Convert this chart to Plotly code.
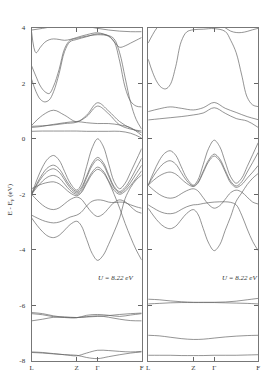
import plotly.graph_objects as go

# k-path positions (fraction of path length)
K = [0, .1, .2, .3, .41, .5, .6, .7, .8, .9, 1.0]
KV = [0, .05, .1, .15, .2, .25, .3, .35, .41, .45, .5, .55, .6, .65, .7, .75, .8, .85, .9, .95, 1.0]
KF = [0, .04, .08, .12, .16, .2, .25, .3, .35, .41, .5, .6, .7, .75, .8, .85, .9, .95, 1.0]
TICK_POS = [0, 0.41, 0.6, 1.0]
TICK_TEXT = ["L", "Z", "Γ", "F"]
Y_TICKS = [4, 2, 0, -2, -4, -6, -8]
LABEL = "U = 8.22 eV"

# ---- left panel valence bands (eV), on KV ----
LV1 = [-2.0, -1.46, -1.01, -0.71, -0.6, -0.77, -1.18, -1.59, -1.85, -1.66, -1.0, -0.33, 0.0, -0.26, -0.9, -1.54, -1.8, -1.6, -1.2, -0.78, -0.35]
LV2 = [-2.0, -1.6, -1.26, -1.03, -0.95, -1.08, -1.39, -1.7, -1.9, -1.77, -1.34, -0.89, -0.67, -0.85, -1.29, -1.72, -1.9, -1.75, -1.45, -1.08, -0.7]
LV3 = [-2.0, -1.65, -1.35, -1.15, -1.08, -1.2, -1.48, -1.77, -1.95, -1.83, -1.4, -0.97, -0.75, -0.93, -1.35, -1.77, -1.95, -1.82, -1.57, -1.26, -0.95]
LV4 = [-2.0, -1.74, -1.52, -1.37, -1.32, -1.41, -1.63, -1.86, -2.0, -1.9, -1.55, -1.2, -1.02, -1.16, -1.51, -1.86, -2.0, -1.89, -1.68, -1.42, -1.15]
LV5 = [-1.8, -1.7, -1.62, -1.57, -1.55, -1.62, -1.78, -1.95, -2.05, -1.95, -1.61, -1.27, -1.1, -1.22, -1.55, -2.0, -2.5, -3.05, -3.55, -4.0, -4.37]
LV6 = [-2.0, -2.21, -2.39, -2.51, -2.55, -2.49, -2.34, -2.19, -2.1, -2.17, -2.42, -2.67, -2.8, -2.71, -2.5, -2.29, -2.2, -2.27, -2.44, -2.61, -2.68]
LV7 = [-2.85, -3.12, -3.35, -3.51, -3.56, -3.48, -3.29, -3.09, -2.97, -3.12, -3.62, -4.13, -4.38, -4.2, -3.8, -3.35, -2.85, -2.15, -1.75, -1.48, -1.3]
LV8 = [-2.75, -2.85, -2.94, -3.0, -3.03, -3.0, -2.92, -2.82, -2.75, -2.65, -2.42, -2.25, -2.2, -2.22, -2.28, -2.3, -2.28, -2.3, -2.38, -2.45, -2.5]
# left panel, on K
LD1 = [-6.26, -6.3, -6.38, -6.43, -6.44, -6.41, -6.38, -6.43, -6.5, -6.55, -6.56]
LD2 = [-6.56, -6.5, -6.43, -6.42, -6.44, -6.42, -6.4, -6.37, -6.33, -6.3, -6.28]
LD3 = [-6.3, -6.34, -6.41, -6.44, -6.45, -6.36, -6.33, -6.36, -6.4, -6.35, -6.3]
LE1 = [-7.68, -7.7, -7.74, -7.78, -7.82, -7.72, -7.62, -7.63, -7.66, -7.68, -7.66]
LE2 = [-7.7, -7.72, -7.75, -7.78, -7.8, -7.88, -7.92, -7.85, -7.78, -7.72, -7.68]
LC1 = [0.27, 0.28, 0.28, 0.28, 0.28, 0.27, 0.27, 0.27, 0.27, 0.2, 0.03]
LC2 = [0.41, 0.45, 0.52, 0.58, 0.62, 0.58, 0.55, 0.55, 0.5, 0.4, 0.12]
LC3 = [0.48, 0.85, 1.03, 0.85, 0.62, 0.85, 1.3, 1.0, 0.62, 0.38, 0.22]
LC4 = [0.45, 0.47, 0.5, 0.55, 0.6, 0.8, 1.18, 0.9, 0.5, 0.35, 0.28]
LC5 = [3.92, 3.98, 4.05, 4.1, 4.1, 4.05, 3.98, 3.92, 3.88, 3.86, 3.86]
# left panel, on KF
LU1 = [2.63, 2.25, 1.9, 1.7, 1.63, 1.9, 2.5, 3.25, 3.55, 3.62, 3.7, 3.75, 3.7, 3.5, 2.8, 1.85, 1.35, 1.18, 1.15]
LU2 = [2.15, 1.7, 1.42, 1.33, 1.4, 1.7, 2.35, 3.15, 3.5, 3.58, 3.68, 3.78, 3.72, 3.6, 3.1, 2.2, 1.3, 0.7, 0.35]
LU3 = [3.85, 3.1, 3.3, 3.48, 3.57, 3.6, 3.58, 3.55, 3.58, 3.65, 3.75, 3.82, 3.7, 3.5, 3.3, 3.35, 3.45, 3.55, 3.65]

# ---- right panel valence bands (eV), on KV ----
RV1 = [-1.67, -1.2, -0.79, -0.52, -0.43, -0.59, -1.0, -1.41, -1.67, -1.5, -0.93, -0.34, -0.05, -0.28, -0.83, -1.37, -1.6, -1.42, -1.0, -0.57, -0.14]
RV2 = [-1.67, -1.33, -1.05, -0.86, -0.79, -0.91, -1.21, -1.51, -1.7, -1.58, -1.17, -0.76, -0.55, -0.72, -1.13, -1.53, -1.7, -1.55, -1.2, -0.85, -0.49]
RV3 = [-1.67, -1.49, -1.34, -1.24, -1.2, -1.27, -1.44, -1.61, -1.72, -1.61, -1.22, -0.82, -0.62, -0.79, -1.19, -1.59, -1.75, -1.65, -1.42, -1.2, -0.96]
RV4 = [-1.67, -1.85, -2.0, -2.1, -2.14, -2.1, -1.98, -1.87, -1.8, -1.87, -2.12, -2.37, -2.5, -2.41, -2.18, -1.94, -1.85, -1.92, -2.1, -2.28, -2.35]
RV5 = [-2.5, -2.78, -3.02, -3.18, -3.24, -3.15, -2.92, -2.69, -2.55, -2.7, -3.23, -3.76, -4.03, -3.82, -3.3, -2.8, -2.25, -1.95, -1.65, -1.42, -1.25]
RV6 = [-2.38, -2.5, -2.61, -2.68, -2.7, -2.66, -2.55, -2.45, -2.38, -2.37, -2.33, -2.3, -2.28, -2.27, -2.27, -2.29, -2.38, -2.75, -3.25, -3.7, -4.03]
# right panel, on K
RD1 = [-5.78, -5.8, -5.84, -5.87, -5.89, -5.89, -5.89, -5.88, -5.85, -5.8, -5.75]
RD2 = [-5.95, -5.93, -5.91, -5.9, -5.9, -5.9, -5.9, -5.91, -5.92, -5.93, -5.95]
RD3 = [-7.08, -7.1, -7.15, -7.2, -7.23, -7.22, -7.18, -7.14, -7.11, -7.09, -7.08]
RD4 = [-7.8, -7.8, -7.8, -7.81, -7.81, -7.81, -7.8, -7.8, -7.8, -7.79, -7.78]
RC1 = [0.98, 1.08, 1.15, 1.1, 1.04, 1.12, 1.31, 1.1, 0.95, 0.8, 0.69]
RC2 = [0.68, 0.72, 0.76, 0.8, 0.86, 0.93, 1.12, 0.92, 0.73, 0.64, 0.41]
# right panel, on KF
RU1 = [2.87, 2.4, 2.05, 1.85, 1.8, 1.95, 2.6, 3.5, 3.85, 3.93, 3.95, 3.97, 3.87, 3.55, 3.1, 2.3, 1.5, 1.22, 1.16]
RU2 = [3.45, 3.75, 4.0, 4.15, 4.2, 4.2, 4.2, 4.2, 4.2, 4.2, 4.2, 4.15, 4.0, 3.88, 3.83, 3.83, 3.87, 3.93, 3.98]

PANELS = [
    ("x", "y", [(KV, [LV1, LV2, LV3, LV4, LV5, LV6, LV7, LV8]),
                (K, [LD1, LD2, LD3, LE1, LE2, LC1, LC2, LC3, LC4, LC5]),
                (KF, [LU1, LU2, LU3])]),
    ("x2", "y2", [(KV, [RV1, RV2, RV3, RV4, RV5, RV6]),
                  (K, [RD1, RD2, RD3, RD4, RC1, RC2]),
                  (KF, [RU1, RU2])]),
]

LINE = dict(color="#666666", width=0.7, shape="spline", smoothing=1.0)

fig = go.Figure()
for xa, ya, groups in PANELS:
    for kk, bands in groups:
        for b in bands:
            fig.add_trace(go.Scatter(x=kk, y=b, mode="lines", line=LINE,
                                     xaxis=xa, yaxis=ya, showlegend=False,
                                     hoverinfo="skip"))

FONT = dict(family="Liberation Serif", size=7, color="#333333")
ax_common = dict(range=[0, 1], tickvals=TICK_POS, ticktext=TICK_TEXT,
                 ticks="inside", ticklen=4, tickcolor="#666666",
                 showline=True, linecolor="#777777", linewidth=1,
                 mirror="ticks", showgrid=False, zeroline=False,
                 tickfont=FONT)
ay_common = dict(range=[-8, 4], tickvals=Y_TICKS,
                 ticktext=[str(v) for v in Y_TICKS],
                 ticks="inside", ticklen=4, tickcolor="#666666",
                 showline=True, linecolor="#777777", linewidth=1,
                 mirror="ticks", showgrid=False, zeroline=False,
                 tickfont=FONT)

fig.update_layout(
    width=278, height=380, autosize=False,
    margin=dict(l=0, r=0, t=0, b=0),
    paper_bgcolor="white", plot_bgcolor="white",
    hovermode=False,
    xaxis=dict(domain=[0.108, 0.5097], anchor="y", **ax_common),
    yaxis=dict(domain=[0.0408, 0.936], anchor="x", ticklabelstandoff=4,
               **ay_common),
    xaxis2=dict(domain=[0.5335, 0.935], anchor="y2", **ax_common),
    yaxis2=dict(domain=[0.0408, 0.936], anchor="x2", showticklabels=False,
                **ay_common),
    annotations=[
        dict(text="E - E<sub>F</sub> (eV)", xref="paper", yref="paper",
             x=0.029, y=0.474, xanchor="center", yanchor="middle",
             showarrow=False, textangle=-90,
             font=dict(family="Liberation Serif", size=7, color="#333333")),
        dict(text="<i>" + LABEL + "</i>", xref="paper", yref="paper",
             x=0.414, y=0.263, xanchor="center", yanchor="middle",
             showarrow=False,
             font=dict(family="Liberation Serif", size=7, color="#333333")),
        dict(text="<i>" + LABEL + "</i>", xref="paper", yref="paper",
             x=0.867, y=0.263, xanchor="center", yanchor="middle",
             showarrow=False,
             font=dict(family="Liberation Serif", size=7, color="#333333")),
    ],
)

fig.write_html("out.html",
               config={"displayModeBar": False, "staticPlot": True},
               post_script="document.body.style.margin='0';"
                           "document.body.style.overflow='hidden';")
